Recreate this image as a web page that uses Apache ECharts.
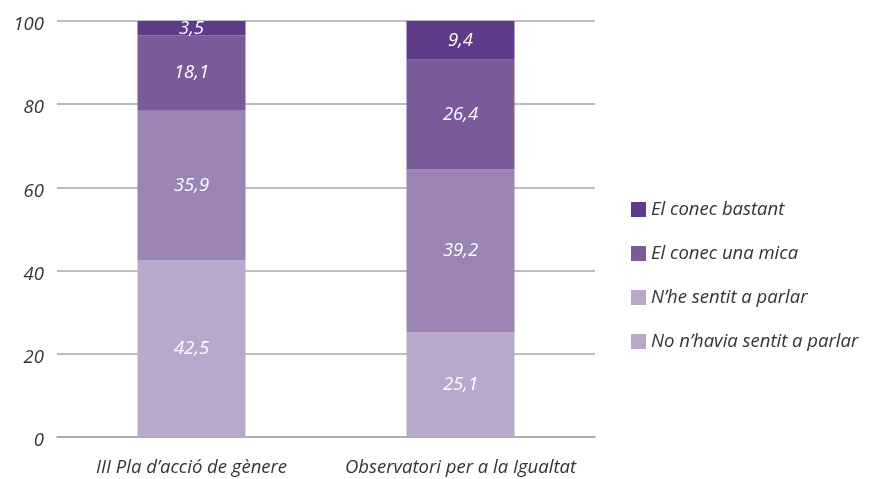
<!DOCTYPE html>
<html>
<head>
    <meta charset="UTF-8">
    <title>Coneixement</title>
    <style>
        html, body { margin: 0; padding: 0; background: #fff; }
        #main { width: 873px; height: 479px; }
    </style>
</head>
<body>
<div id="main"></div>
<script src="https://cdn.jsdelivr.net/npm/echarts@6/dist/echarts.min.js"></script>
<script>
    // dades
    var categories = ['III Pla d\u2019acció de gènere', 'Observatori per a la Igualtat'];
    var seriesNames = ['No n\u2019havia sentit a parlar', 'N\u2019he sentit a parlar', 'El conec una mica', 'El conec bastant'];
    var noHavia = [42.5, 25.1];
    var heSentit = [35.9, 39.2];
    var unaMica = [18.1, 26.4];
    var bastant = [3.5, 9.4];
    var yTicks = [0, 20, 40, 60, 80, 100];

    var colors = ['#b8a9cc', '#9a84b6', '#7a5b9a', '#5e3b89'];
    var legendColors = ['#b8a9cc', '#b8a9cc', '#7a5b9a', '#5e3b89'];
    var values = [noHavia, heSentit, unaMica, bastant];

    var font = '"Open Sans", "Liberation Sans", sans-serif';
    var fs = 18.5;

    var series = [];
    for (var i = 0; i < seriesNames.length; i++) {
        series.push({
            name: seriesNames[i],
            type: 'bar',
            stack: 'total',
            barWidth: 108,
            data: values[i],
            itemStyle: { color: colors[i] },
            label: {
                show: true,
                color: '#fff',
                fontStyle: 'italic',
                fontFamily: font,
                fontSize: fs,
                formatter: function (p) { return String(p.value).replace('.', ','); }
            }
        });
    }

    var legendData = [];
    for (var j = seriesNames.length - 1; j >= 0; j--) {
        legendData.push({ name: seriesNames[j], itemStyle: { color: legendColors[j] } });
    }

    var myChart = echarts.init(document.getElementById('main'));
    var option = {
        animation: false,
        grid: { left: 57, right: 278, top: 21, bottom: 42 },
        legend: {
            data: legendData,
            orient: 'vertical',
            left: 626,
            top: 195,
            itemWidth: 15,
            itemHeight: 15,
            itemGap: 25,
            icon: 'rect',
            textStyle: { fontFamily: font, fontStyle: 'italic', fontSize: fs, lineHeight: 19, color: '#333' }
        },
        xAxis: {
            type: 'category',
            data: categories,
            axisLine: { lineStyle: { color: '#a6a6a6', width: 1.5 } },
            axisTick: { show: false },
            axisLabel: { interval: 0, margin: 21, fontFamily: font, fontStyle: 'italic', fontSize: fs, color: '#333' }
        },
        yAxis: {
            type: 'value',
            min: yTicks[0],
            max: yTicks[yTicks.length - 1],
            interval: 20,
            axisLine: { show: false },
            axisTick: { show: false },
            splitLine: { lineStyle: { color: '#a6a6a6', width: 1.5 } },
            axisLabel: {
                margin: 13,
                formatter: function (v) { return '{a|' + v + '}'; },
                rich: {
                    a: { padding: [8, 0, 0, 0], fontFamily: font, fontStyle: 'italic', fontSize: fs, color: '#333' }
                }
            }
        },
        series: series
    };
    myChart.setOption(option);
</script>
</body>
</html>
